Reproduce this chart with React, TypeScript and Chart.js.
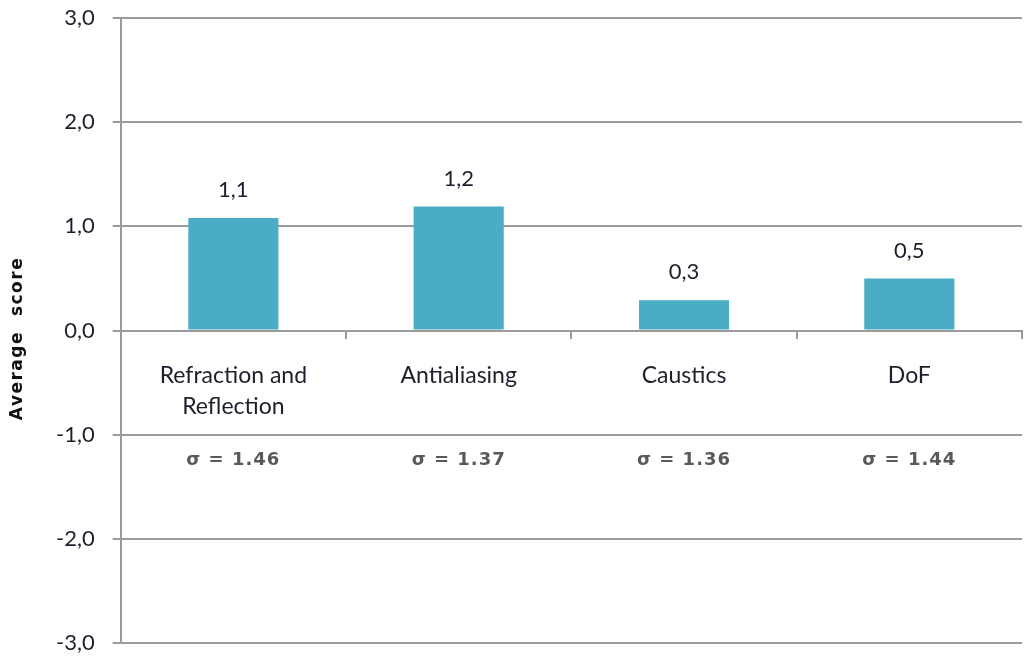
import React, { useEffect, useRef } from "react";
import { Chart, registerables } from "chart.js";

Chart.register(...registerables);

const categories: (string | string[])[] = [["Refraction and", "Reflection"], "Antialiasing", "Caustics", "DoF"];
const averageScores = [1.08, 1.19, 0.29, 0.5];
const sigmaLabels = ["σ = 1.46", "σ = 1.37", "σ = 1.36", "σ = 1.44"];
const sigmaRowValue = -1.25;
const yTicks = [-3, -2, -1, 0, 1, 2, 3];
const yTitle = "Average  score";

const FONT = "Lato, 'Open Sans', sans-serif";

const fmt = (v: number) => v.toFixed(1).replace(".", ",");

const labelsPlugin = {
  id: "customLabels",
  afterDatasetsDraw(chart: any) {
    const ctx = chart.ctx;
    const meta = chart.getDatasetMeta(0);
    const yScale = chart.scales.y;
    ctx.save();
    ctx.textAlign = "center";
    ctx.textBaseline = "middle";
    meta.data.forEach((bar: any, i: number) => {
      ctx.font = `22px ${FONT}`;
      (ctx as any).letterSpacing = "0px";
      ctx.fillStyle = "#1e1e2e";
      ctx.fillText(fmt(averageScores[i]), bar.x, bar.y - 28);
      ctx.font = `bold 18px 'DejaVu Sans', sans-serif`;
      (ctx as any).letterSpacing = "1px";
      ctx.fillStyle = "#595959";
      ctx.fillText(sigmaLabels[i], bar.x, yScale.getPixelForValue(sigmaRowValue));
    });
    // y axis title
    const area = chart.chartArea;
    ctx.translate(18, (area.top + area.bottom) / 2 + 8);
    ctx.rotate(-Math.PI / 2);
    ctx.font = `bold 17px 'DejaVu Sans', sans-serif`;
    (ctx as any).letterSpacing = "1.5px";
    ctx.fillStyle = "#111111";
    ctx.fillText(yTitle, 0, 0);
    ctx.restore();
  },
};

export default function App() {
  const ref = useRef<HTMLCanvasElement | null>(null);
  useEffect(() => {
    document.body.style.margin = "0";
    if (!ref.current) return;
    const chart = new Chart(ref.current, {
      type: "bar",
      data: {
        labels: categories as any,
        datasets: [
          {
            data: averageScores,
            backgroundColor: "#4bacc6",
            borderWidth: 0,
            barPercentage: 0.8,
            categoryPercentage: 0.5,
          },
        ],
      },
      options: {
        animation: false,
        responsive: true,
        maintainAspectRatio: false,
        layout: { padding: { top: 0, right: 3, bottom: 0, left: 38 } },
        plugins: { legend: { display: false }, tooltip: { enabled: false } },
        scales: {
          x: {
            position: { y: 0 } as any,
            offset: true,
            grid: {
              offset: true,
              drawOnChartArea: false,
              drawTicks: true,
              tickLength: 7,
              color: "#9a9a9a",
              lineWidth: 2,
            },
            border: { display: true, color: "#9a9a9a", width: 2 },
            ticks: {
              padding: 23,
              color: "#1e1e2e",
              font: { family: FONT, size: 23, lineHeight: 1.35 },
              maxRotation: 0,
              autoSkip: false,
            },
          },
          y: {
            min: -3,
            max: 3,
            afterBuildTicks(axis: any) {
              axis.ticks = yTicks.map((v) => ({ value: v }));
            },
            grid: {
              color: "#9a9a9a",
              lineWidth: 2,
              tickLength: 8,
            },
            border: { display: true, color: "#9a9a9a", width: 2 },
            ticks: {
              padding: 18,
              color: "#1e1e2e",
              font: { family: FONT, size: 22 },
              callback: (v: any) => fmt(Number(v)),
            },
          },
        },
      },
      plugins: [labelsPlugin],
    });
    return () => chart.destroy();
  }, []);
  return (
    <div style={{ width: 1025, height: 657, position: "relative", overflow: "hidden", background: "#fff" }}>
      <div style={{ position: "absolute", left: 0, top: -13, width: 1025, height: 687 }}>
        <canvas ref={ref} />
      </div>
    </div>
  );
}
